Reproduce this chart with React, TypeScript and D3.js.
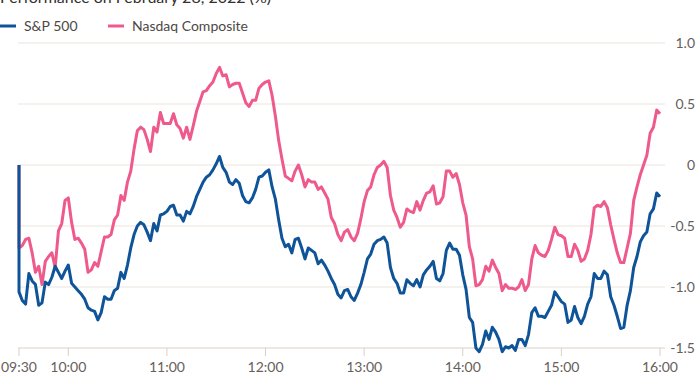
import React from "react";
import * as d3 from "d3";

const TITLE = "Performance on February 28, 2022 (%)";
const SERIES_NAMES = ["S&P 500", "Nasdaq Composite"];
const COLORS = ["#0f5499", "#ef5a8c"];

// minutes after 09:30; readings every 2 minutes, plus the prior-close reference point at 0
const STEP_MIN = 2;
const OPEN_VALUE = 0;

const sp500 = [
  -1.04, -1.11, -1.14, -0.89, -0.95, -0.98, -1.15, -1.13, -0.96, -0.98,
  -0.92, -0.83, -0.88, -0.93, -0.87, -0.82, -0.97, -1.0, -1.03, -1.06,
  -1.1, -1.17, -1.19, -1.2, -1.27, -1.21, -1.08, -1.1, -1.1, -1.03,
  -1.01, -0.88, -0.93, -0.82, -0.68, -0.57, -0.5, -0.47, -0.49, -0.55,
  -0.62, -0.48, -0.54, -0.41, -0.4, -0.38, -0.34, -0.33, -0.41, -0.41,
  -0.46, -0.38, -0.4, -0.34, -0.26, -0.2, -0.14, -0.1, -0.08, -0.04,
  0.01, 0.07, -0.02, -0.06, -0.14, -0.16, -0.12, -0.15, -0.25, -0.3,
  -0.31, -0.27, -0.2, -0.1, -0.09, -0.06, -0.04, -0.18, -0.28, -0.45,
  -0.6, -0.67, -0.65, -0.72, -0.61, -0.6, -0.68, -0.77, -0.68, -0.7,
  -0.72, -0.81, -0.78, -0.82, -0.87, -0.93, -0.98, -1.06, -1.09, -1.03,
  -1.02, -1.08, -1.11, -1.05, -0.98, -0.88, -0.77, -0.73, -0.65, -0.62,
  -0.61, -0.59, -0.64, -0.84, -0.93, -0.97, -1.05, -1.05, -0.94, -0.97,
  -0.99, -0.94, -1.0, -0.9, -0.86, -0.83, -0.79, -0.93, -0.95, -0.89,
  -0.7, -0.64, -0.69, -0.69, -0.74, -0.9, -1.02, -1.25, -1.29, -1.5,
  -1.53, -1.47, -1.36, -1.43, -1.33, -1.37, -1.43, -1.53, -1.49, -1.5,
  -1.48, -1.52, -1.43, -1.43, -1.48, -1.39, -1.21, -1.17, -1.24, -1.24,
  -1.25, -1.2, -1.15, -1.04, -1.08, -1.12, -1.14, -1.29, -1.27, -1.16,
  -1.25, -1.3, -1.24, -1.14, -1.08, -0.89, -0.93, -0.93, -0.87, -0.9,
  -1.08, -1.15, -1.24, -1.34, -1.33, -1.15, -1.03, -0.84, -0.75, -0.63,
  -0.58, -0.55, -0.4, -0.36, -0.23, -0.26,
];

const nasdaq = [
  -0.68, -0.66, -0.61, -0.6, -0.72, -0.88, -0.83, -0.98, -0.79, -0.75,
  -0.72, -0.84, -0.54, -0.48, -0.29, -0.27, -0.47, -0.61, -0.6, -0.64,
  -0.69, -0.88, -0.86, -0.8, -0.83, -0.71, -0.59, -0.59, -0.57, -0.45,
  -0.41, -0.25, -0.29, -0.14, -0.05, 0.13, 0.28, 0.31, 0.29, 0.21,
  0.11, 0.31, 0.27, 0.43, 0.34, 0.34, 0.34, 0.42, 0.33, 0.3,
  0.22, 0.31, 0.21, 0.32, 0.44, 0.52, 0.6, 0.61, 0.65, 0.68,
  0.75, 0.8, 0.73, 0.74, 0.64, 0.66, 0.67, 0.67, 0.59, 0.51,
  0.48, 0.53, 0.53, 0.63, 0.66, 0.68, 0.69, 0.57, 0.4, 0.2,
  0.05, -0.09, -0.11, -0.13, -0.05, 0.0, -0.08, -0.18, -0.12, -0.14,
  -0.14, -0.2, -0.18, -0.23, -0.28, -0.43, -0.48, -0.57, -0.62, -0.55,
  -0.53, -0.59, -0.62, -0.56, -0.44, -0.3, -0.21, -0.18, -0.08, -0.02,
  0.0, 0.03, -0.02, -0.25, -0.37, -0.43, -0.51, -0.47, -0.36, -0.38,
  -0.39, -0.3, -0.37, -0.29, -0.23, -0.22, -0.17, -0.32, -0.31, -0.26,
  -0.05, -0.05, -0.1, -0.07, -0.16, -0.31, -0.41, -0.67, -0.77, -0.99,
  -0.98, -0.94, -0.83, -0.87, -0.78, -0.84, -0.89, -1.03, -0.98, -1.01,
  -1.01, -1.02, -1.0, -0.94, -1.03, -0.98, -0.77, -0.66, -0.72, -0.74,
  -0.75, -0.7, -0.61, -0.51, -0.57, -0.58, -0.6, -0.75, -0.75, -0.65,
  -0.7, -0.79, -0.77, -0.7, -0.57, -0.35, -0.33, -0.34, -0.3, -0.35,
  -0.49, -0.61, -0.72, -0.8, -0.8, -0.68, -0.56, -0.29, -0.18, -0.08,
  0.0, 0.08, 0.26, 0.31, 0.45, 0.42,
];

const Y_TICKS = [1.0, 0.5, 0, -0.5, -1.0, -1.5];
const Y_LABELS = ["1.0", "0.5", "0", "-0.5", "-1.0", "-1.5"];
const X_TICKS = [0, 30, 90, 150, 210, 270, 330, 390];
const X_LABELS = ["09:30", "10:00", "11:00", "12:00", "13:00", "14:00", "15:00", "16:00"];

const W = 700;
const H = 375;
const FONT = "Lato, 'Noto Sans', sans-serif";

export default function App() {
  const x = d3.scaleLinear().domain([0, 390]).range([19, 660]);
  const y = d3.scaleLinear().domain([-1.5, 1.0]).range([348, 43]);

  const toPts = (vals: number[]) => {
    const pts: [number, number][] = [[0, OPEN_VALUE]];
    vals.forEach((v, i) => pts.push([i * STEP_MIN, v]));
    return pts;
  };
  const line = d3
    .line<[number, number]>()
    .x((d) => x(d[0]))
    .y((d) => y(d[1]))
    .curve(d3.curveLinear);

  const series = [sp500, nasdaq];
  const gridLeft = 18;
  const gridRight = 665;

  return (
    <svg
      width={W}
      height={H}
      style={{ position: "absolute", left: 0, top: 0, background: "#fff" }}
      fontFamily={FONT}
    >
      <text x={0} y={3} fontSize={16} fill="#33302e">
        {TITLE}
      </text>
      {SERIES_NAMES.map((name, i) => {
        const lx = i === 0 ? 0 : 108;
        return (
          <g key={name}>
            <line x1={lx} x2={lx + 16} y1={26} y2={26} stroke={COLORS[i]} strokeWidth={3} />
            <text x={lx + 24} y={31} fontSize={14} fill="#4d4845">
              {name}
            </text>
          </g>
        );
      })}
      {Y_TICKS.map((t, i) => (
        <g key={t}>
          <line
            x1={gridLeft}
            x2={gridRight}
            y1={y(t)}
            y2={y(t)}
            stroke={t === -1.5 ? "#d9d0c7" : "#ebe4dd"}
            strokeWidth={1}
          />
          <text x={695} y={y(t) + 5} fontSize={14} fill="#66605c" textAnchor="end">
            {Y_LABELS[i]}
          </text>
        </g>
      ))}
      {X_TICKS.map((t, i) => (
        <g key={t}>
          <line x1={x(t)} x2={x(t)} y1={348} y2={356} stroke="#d9d0c7" strokeWidth={1} />
          <text x={x(t)} y={372} fontSize={14} fill="#66605c" textAnchor="middle">
            {X_LABELS[i]}
          </text>
        </g>
      ))}
      {[1, 0].map((si) => (
        <path
          key={si}
          d={line(toPts(series[si])) || ""}
          fill="none"
          stroke={COLORS[si]}
          strokeWidth={3}
          strokeLinejoin="round"
        />
      ))}
    </svg>
  );
}
